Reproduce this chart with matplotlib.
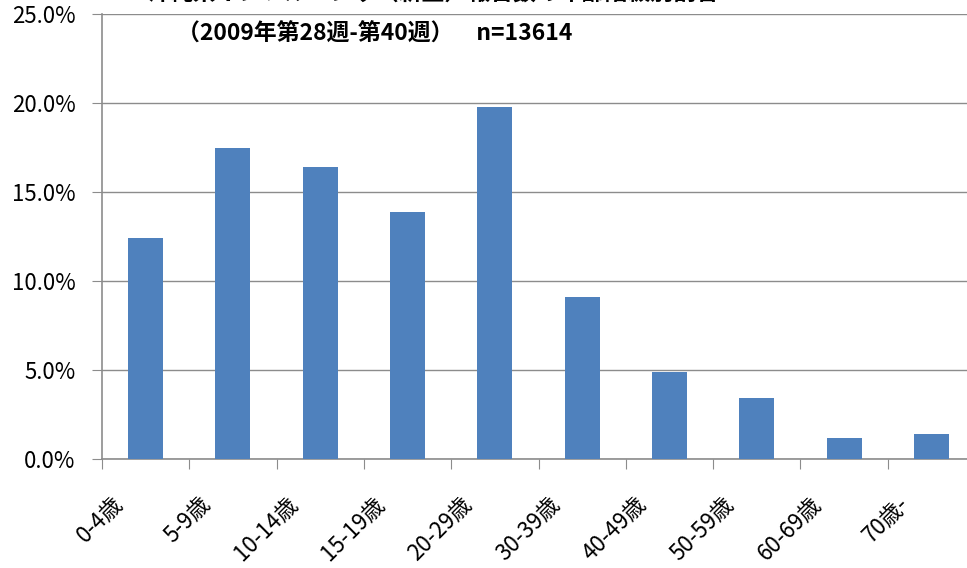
import matplotlib
matplotlib.use('Agg')
import matplotlib.pyplot as plt
import matplotlib.transforms as mtransforms
from matplotlib.ticker import FuncFormatter

plt.rcParams['font.family'] = ['Noto Sans CJK JP', 'DejaVu Sans']

# age groups and share of reports (%)
age_groups = ['0-4歳', '5-9歳', '10-14歳', '15-19歳', '20-29歳',
              '30-39歳', '40-49歳', '50-59歳', '60-69歳', '70歳-']
share = [12.4, 17.5, 16.4, 13.9, 19.8, 9.1, 4.9, 3.4, 1.2, 1.4]

title_top = '沖縄県インフルエンザ（新型）報告数の年齢階級別割合'
title_sub = '（2009年第28週-第40週）　n=13614'

W, H = 967, 568
fig = plt.figure(figsize=(W / 100, H / 100), dpi=100)
# axes: left 102px, 0% at y=459, 25% at y=14, 10 categories of ~87.3px
ax = fig.add_axes([102 / W, (H - 459) / H, 873 / W, 445 / H])

x = range(len(age_groups))
ax.bar(x, share, width=0.4, color='#4F81BD', zorder=3)

ax.set_xlim(-0.5, len(age_groups) - 0.5)
ax.set_ylim(0, 25)
ax.set_yticks([0, 5, 10, 15, 20, 25])
ax.yaxis.set_major_formatter(FuncFormatter(lambda v, p: '%.1f%%' % v))
ax.grid(axis='y', color='#8c8c8c', linewidth=1, zorder=0)

for s in ['top', 'right']:
    ax.spines[s].set_visible(False)
for s in ['left', 'bottom']:
    ax.spines[s].set_color('#8c8c8c')
    ax.spines[s].set_linewidth(1.2)

ax.tick_params(axis='y', length=7, color='#8c8c8c', labelsize=16, pad=12)
# category boundary ticks on x
ax.set_xticks([i - 0.5 for i in range(len(age_groups))], minor=False)
ax.set_xticklabels([])
ax.tick_params(axis='x', which='major', length=7, color='#8c8c8c')
ax.set_xticks(list(x), minor=True)
ax.set_xticklabels(age_groups, minor=True, rotation=45, ha='right', va='top',
                   fontsize=16)
ax.tick_params(axis='x', which='minor', length=0, pad=24)
offset = mtransforms.ScaledTranslation(-18 / 100, 0, fig.dpi_scale_trans)
for lbl in ax.xaxis.get_minorticklabels():
    lbl.set_transform(lbl.get_transform() + offset)

fig.text(433 / W, 1 - 1 / H, title_top, ha='center', va='baseline',
         fontsize=16.5, fontweight='bold')
fig.text(177 / W, 1 - 34 / H, title_sub, ha='left', va='center',
         fontsize=16.5, fontweight='bold')

fig.savefig('out.png', dpi=100)
